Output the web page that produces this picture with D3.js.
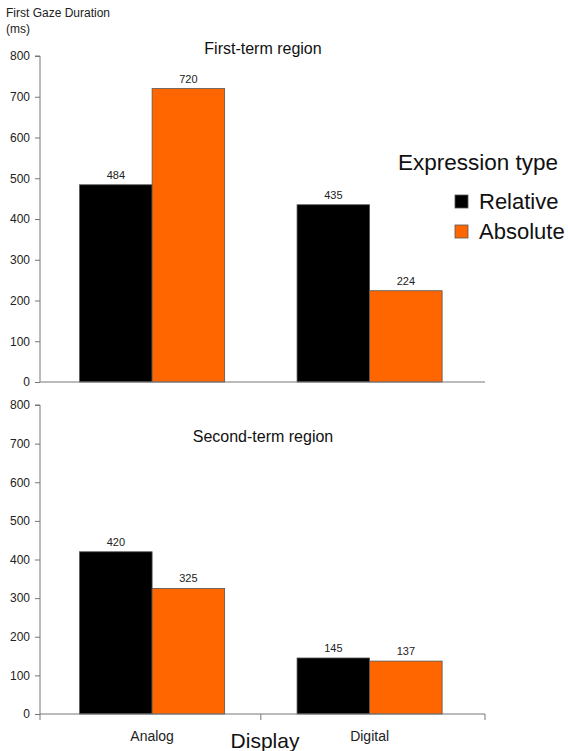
<!DOCTYPE html>
<html><head><meta charset="utf-8">
<script src="https://cdn.jsdelivr.net/npm/d3@7"></script>
<style>body{margin:0;background:#fff}svg{display:block;font-family:"Liberation Sans",Arial,sans-serif}</style>
</head><body><svg id="c" width="568" height="751"></svg>
<script>
const categories = ["Analog", "Digital"];
const seriesNames = ["Relative", "Absolute"];
const firstTerm = {Relative: [484, 435], Absolute: [720, 224]};
const secondTerm = {Relative: [420, 145], Absolute: [325, 137]};
const yTicks = [0, 100, 200, 300, 400, 500, 600, 700, 800];
const colors = ["#000000", "#FF6600"];

const svg = d3.select("#c");
const x0 = d3.scaleBand().domain(categories).range([40, 481.7]).paddingInner(0.333).paddingOuter(0.182);
const x1 = d3.scaleBand().domain(seriesNames).range([0, x0.bandwidth()]);
const color = d3.scaleOrdinal().domain(seriesNames).range(colors);

function panel(data, top, bottom, title, titleY, showX) {
  const y = d3.scaleLinear().domain([0, 800]).range([bottom, top]);
  const g = svg.append("g");
  const ya = g.append("g").attr("transform", "translate(40,0)")
    .call(d3.axisLeft(y).tickValues(yTicks).tickSize(5).tickPadding(5));
  ya.selectAll("text").attr("font-size", 12).attr("fill", "#222").attr("font-family", "Liberation Sans, Arial, sans-serif");
  ya.selectAll("line,path").attr("stroke", "#777");
  ya.select("path").attr("d", `M-5,${top}H0V${bottom}`);
  categories.forEach((c, i) => {
    seriesNames.forEach(s => {
      const v = data[s][i];
      const bx = x0(c) + x1(s);
      g.append("rect").attr("x", bx).attr("y", y(v))
        .attr("width", x1.bandwidth()).attr("height", y(0) - y(v))
        .attr("fill", color(s)).attr("stroke", "#555").attr("stroke-width", 0.8);
      g.append("text").attr("x", bx + x1.bandwidth() / 2).attr("y", y(v) - 6)
        .attr("text-anchor", "middle").attr("font-size", 11).attr("fill", "#222").text(v);
    });
  });
  const xa = g.append("g").attr("transform", `translate(0,${bottom})`);
  xa.append("line").attr("x1", 40).attr("x2", 485).attr("stroke", "#777");
  if (showX) {
    const tickXs = [40, (x0("Analog") + x0.bandwidth() + x0("Digital")) / 2, 485];
    tickXs.forEach(t => xa.append("line").attr("x1", t).attr("x2", t).attr("y1", 0).attr("y2", 6).attr("stroke", "#777"));
    categories.forEach(c => xa.append("text").attr("x", x0(c) + x0.bandwidth() / 2).attr("y", 27)
      .attr("text-anchor", "middle").attr("font-size", 14).attr("fill", "#222").text(c));
  }
  g.append("text").attr("x", 263).attr("y", titleY).attr("text-anchor", "middle")
    .attr("font-size", 16).attr("fill", "#111").text(title);
}

panel(firstTerm, 56, 382, "First-term region", 54, false);
panel(secondTerm, 405, 714, "Second-term region", 442, true);

svg.append("text").attr("x", 6).attr("y", 17).attr("font-size", 12).attr("fill", "#222").text("First Gaze Duration");
svg.append("text").attr("x", 6).attr("y", 33).attr("font-size", 12).attr("fill", "#222").text("(ms)");
svg.append("text").attr("x", 265).attr("y", 748).attr("text-anchor", "middle").attr("font-size", 21).attr("fill", "#111").text("Display");

svg.append("text").attr("x", 398).attr("y", 170).attr("font-size", 22.5).attr("fill", "#111").text("Expression type");
seriesNames.forEach((s, i) => {
  const ly = 195 + i * 30;
  svg.append("rect").attr("x", 455).attr("y", ly).attr("width", 13).attr("height", 13)
    .attr("fill", color(s)).attr("stroke", "#555").attr("stroke-width", 0.8);
  svg.append("text").attr("x", 479).attr("y", ly + 14).attr("font-size", 22).attr("fill", "#111").text(s);
});
</script></body></html>
